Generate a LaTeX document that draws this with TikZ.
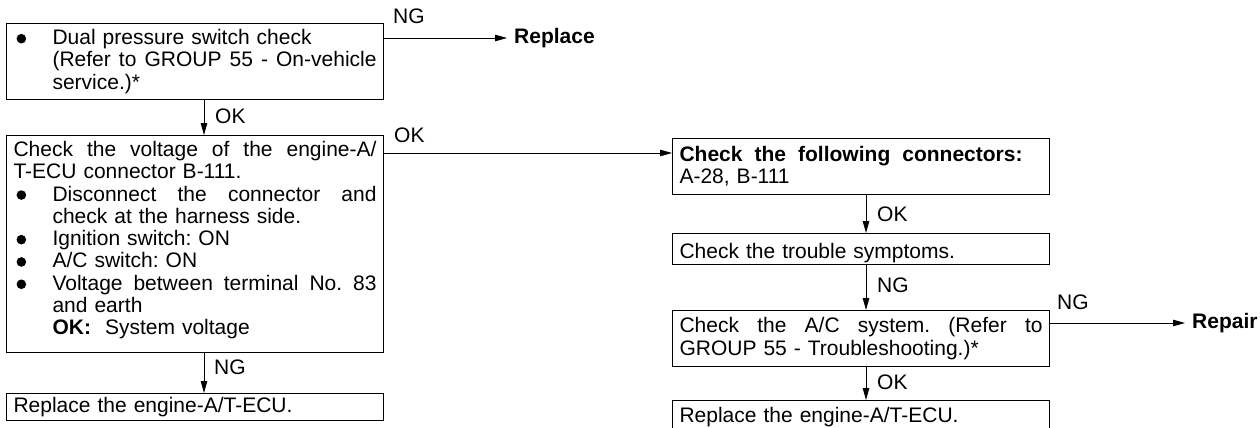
\documentclass[tikz,border=0pt]{standalone}
\usepackage{fontspec}
\setmainfont{Liberation Sans}
\usetikzlibrary{arrows.meta}
\frenchspacing

% width of the text inside every box
\newlength\boxtextw
\setlength\boxtextw{363pt}
% one line of a box: ragged (\rl) or stretched to a given width (\stretchline, \fl)
\newcommand\rl[1]{\hbox to\boxtextw{#1\hfil}}
\newcommand\stretchline[2]{\hbox to #1{\spaceskip=\fontdimen2\font plus 1fil\relax #2}}
\newcommand\fl[1]{\stretchline{\boxtextw}{#1}}
% round bullet and hanging indent of the list items
\newcommand\bl{\makebox[39pt][l]{\hspace{3pt}\tikz[baseline=0pt]\fill (4.8pt,6pt) circle (4.8pt);}}
\newcommand\ind{\hspace*{39pt}}

\tikzset{
  box/.style={draw, line width=1.1pt, rectangle, anchor=north west,
    inner xsep=7pt, inner ysep=0pt, minimum width=377pt, text width=363pt},
  conn/.style={line width=0.9pt, -{Triangle[length=12pt,width=6.5pt]}},
  lbl/.style={anchor=west, inner sep=0pt},
  target/.style={anchor=west, inner sep=0pt, font=\fontsize{21}{22.3}\selectfont\bfseries},
}

\begin{document}
\begin{tikzpicture}[x=1pt, y=-1pt, font=\fontsize{21}{22.3}\selectfont]
\useasboundingbox (0,0) rectangle (1260,428);
\fill[white] (0,0) rectangle (1260,428);
\clip (0,0) rectangle (1260,428);

% left column
\node[box, minimum height=76pt] (b1) at (6,23) {%
  \rl{\bl Dual pressure switch check}
  \fl{\ind(Refer to GROUP 55 - On-vehicle}
  \rl{\ind service.)*}};
\node[box, minimum height=217pt] (b2) at (6,135) {%
  \fl{Check the voltage of the engine-A/}
  \rl{T-ECU connector B-111.}
  \fl{\bl Disconnect the connector and}
  \rl{\ind check at the harness side.}
  \rl{\bl Ignition switch: ON}
  \rl{\bl A/C switch: ON}
  \fl{\bl Voltage between terminal No. 83}
  \rl{\ind and earth}
  \rl{\ind\textbf{OK:}\ \ System voltage\rule[-12pt]{0pt}{0pt}}};
\node[box, minimum height=27pt] (b3) at (6,393) {%
  \rl{Replace the engine-A/T-ECU.}};

% right column
\node[box, minimum height=56pt] (b4) at (672,138) {%
  \stretchline{343pt}{\bfseries Check the following connectors:}
  \rl{A-28, B-111}};
\node[box, minimum height=31pt] (b5) at (672,233) {%
  \rl{\rule{0pt}{23pt}Check the trouble symptoms.}};
\node[box, minimum height=56pt] (b6) at (672,310) {%
  \fl{Check the A/C system. (Refer to}
  \rl{GROUP 55 - Troubleshooting.)*}};
\node[box, minimum height=33pt] (b7) at (672,400) {%
  \rl{Replace the engine-A/T-ECU.}};

% end points of the NG / OK branches
\node[target] (rep) at (514,38) {Replace};
\node[target] (repair) at (1192,323) {Repair};

% guide coordinates for the connector lines
\coordinate (xl) at (204,0);
\coordinate (xr) at (866,0);
\coordinate (y1) at (0,38);
\coordinate (y2) at (0,153);
\coordinate (y3) at (0,323);

\draw[conn] (b1.south -| xl) -- (b2.north -| xl);
\draw[conn] (b2.south -| xl) -- (b3.north -| xl);
\draw[conn] (b4.south -| xr) -- (b5.north -| xr);
\draw[conn] (b5.south -| xr) -- (b6.north -| xr);
\draw[conn] (b6.south -| xr) -- (b7.north -| xr);
\draw[conn, shorten >=7pt] (b1.east |- y1) -- (rep.west);
\draw[conn] (b2.east |- y2) -- (b4.west |- y2);
\draw[conn, shorten >=7pt] (b6.east |- y3) -- (repair.west);

% branch labels
\node[lbl] (l1) at (393,16) {NG};
\node[lbl] (l2) at (215,116) {OK};
\node[lbl] (l3) at (394,135) {OK};
\node[lbl] (l4) at (214,367) {NG};
\node[lbl] (l5) at (877,214) {OK};
\node[lbl] (l6) at (877,285) {NG};
\node[lbl] (l7) at (1057,302) {NG};
\node[lbl] (l8) at (877,382) {OK};
\end{tikzpicture}
\end{document}
